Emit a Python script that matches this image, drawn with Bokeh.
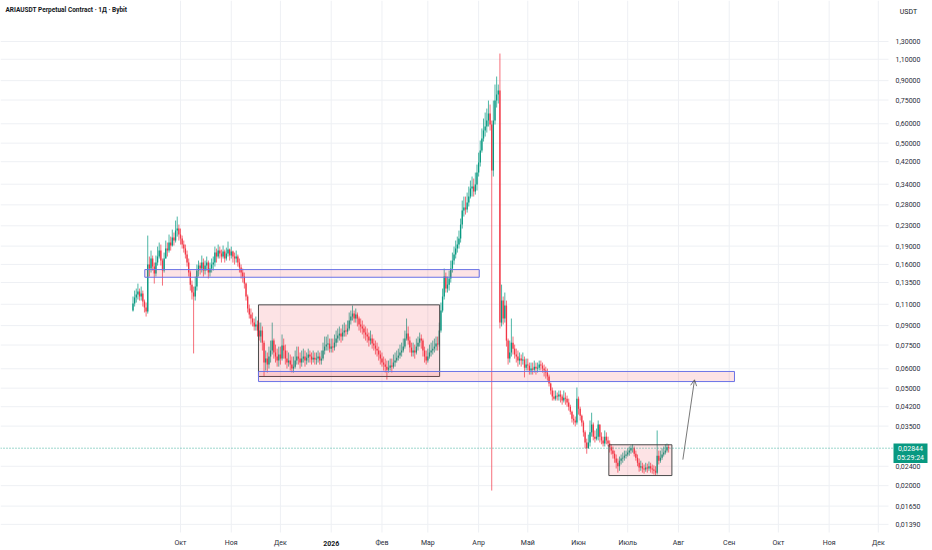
import math
import numpy as np
import pandas as pd
from bokeh.plotting import figure
from bokeh.models import Range1d, Arrow, OpenHead, ColumnDataSource
from bokeh.core.properties import value
from bokeh.embed import file_html
from bokeh.resources import INLINE

# ---------------- data ----------------
title_text = "ARIAUSDT Perpetual Contract · 1Д · Bybit"
currency = "USDT"
first_date = "2025-09-02"
origin_date = "2025-10-01"
first_open = 0.1037

close = [
    0.1107, 0.1172, 0.1205, 0.1239, 0.1183, 0.1216, 0.1128, 0.1067, 0.1027, 0.1598,
    0.1539, 0.1691, 0.1568, 0.1468, 0.1628, 0.1723, 0.1822, 0.1659, 0.1510, 0.1691,
    0.1857, 0.1822, 0.1965, 0.1910, 0.2059, 0.2002, 0.2199, 0.2241, 0.2118, 0.2040,
    0.1928, 0.1857, 0.1755, 0.1628, 0.1482, 0.1323, 0.1228, 0.1183, 0.1299, 0.1510,
    0.1583, 0.1539, 0.1628, 0.1510, 0.1583, 0.1628, 0.1482, 0.1539, 0.1598, 0.1628,
    0.1788, 0.1723, 0.1822, 0.1771, 0.1723, 0.1805, 0.1691, 0.1771, 0.1839, 0.1739,
    0.1805, 0.1723, 0.1691, 0.1723, 0.1628, 0.1553, 0.1482, 0.1427, 0.1336, 0.1183,
    0.1057, 0.0999, 0.0962, 0.0926, 0.0893, 0.0909, 0.0859, 0.0812, 0.0859, 0.0767,
    0.0636, 0.0660, 0.0624, 0.0673, 0.0712, 0.0782, 0.0699, 0.0673, 0.0648, 0.0686,
    0.0660, 0.0746, 0.0712, 0.0660, 0.0636, 0.0648, 0.0624, 0.0601, 0.0612, 0.0648,
    0.0673, 0.0660, 0.0636, 0.0660, 0.0673, 0.0648, 0.0666, 0.0686, 0.0673, 0.0654,
    0.0666, 0.0654, 0.0660, 0.0673, 0.0648, 0.0660, 0.0712, 0.0739, 0.0753, 0.0760,
    0.0725, 0.0739, 0.0732, 0.0767, 0.0797, 0.0820, 0.0835, 0.0812, 0.0843, 0.0859,
    0.0851, 0.0876, 0.0944, 0.0980, 0.1008, 0.0962, 0.0999, 0.0962, 0.0909, 0.0893,
    0.0876, 0.0843, 0.0827, 0.0812, 0.0782, 0.0797, 0.0760, 0.0746, 0.0725, 0.0712,
    0.0686, 0.0660, 0.0636, 0.0624, 0.0612, 0.0595, 0.0606, 0.0618, 0.0612, 0.0636,
    0.0648, 0.0666, 0.0679, 0.0699, 0.0712, 0.0739, 0.0797, 0.0835, 0.0782, 0.0732,
    0.0699, 0.0712, 0.0699, 0.0739, 0.0767, 0.0797, 0.0782, 0.0712, 0.0673, 0.0648,
    0.0673, 0.0699, 0.0712, 0.0725, 0.0739, 0.0760, 0.0753, 0.0859, 0.1037, 0.1183,
    0.1427, 0.1275, 0.1323, 0.1401, 0.1539, 0.1659, 0.1755, 0.1857, 0.1928, 0.2040,
    0.2327, 0.2654, 0.2730, 0.2679, 0.2861, 0.3027, 0.3264, 0.3325, 0.3173, 0.3389,
    0.3793, 0.4167, 0.4665, 0.5222, 0.5630, 0.5846, 0.6185, 0.6605, 0.5956, 0.3865,
    0.6185, 0.7464, 0.7897, 0.8200, 0.0926, 0.1139, 0.0962, 0.1087, 0.0782, 0.0660,
    0.0699, 0.0767, 0.0725, 0.0686, 0.0673, 0.0648, 0.0660, 0.0648, 0.0654, 0.0606,
    0.0624, 0.0618, 0.0590, 0.0601, 0.0595, 0.0612, 0.0601, 0.0606, 0.0624, 0.0618,
    0.0601, 0.0590, 0.0579, 0.0558, 0.0522, 0.0489, 0.0462, 0.0453, 0.0466, 0.0462,
    0.0471, 0.0462, 0.0445, 0.0457, 0.0453, 0.0437, 0.0420, 0.0401, 0.0375, 0.0369,
    0.0362, 0.0453, 0.0412, 0.0386, 0.0362, 0.0330, 0.0300, 0.0284, 0.0300, 0.0330,
    0.0355, 0.0317, 0.0311, 0.0317, 0.0355, 0.0317, 0.0306, 0.0297, 0.0317, 0.0306,
    0.0297, 0.0287, 0.0278, 0.0270, 0.0258, 0.0248, 0.0240, 0.0253, 0.0258, 0.0260,
    0.0265, 0.0268, 0.0273, 0.0278, 0.0284, 0.0284, 0.0270, 0.0260, 0.0248, 0.0237,
    0.0240, 0.0235, 0.0233, 0.0237, 0.0235, 0.0240, 0.0235, 0.0233, 0.0230, 0.0226,
    0.0265, 0.0253, 0.0260, 0.0268, 0.0273, 0.0278, 0.0287, 0.02844,
]

high = [
    0.1183, 0.1251, 0.1275, 0.1336, 0.1275, 0.1299, 0.1251, 0.1150, 0.1118, 0.2098,
    0.1723, 0.1822, 0.1739, 0.1628, 0.1739, 0.1892, 0.1965, 0.1928, 0.1691, 0.1788,
    0.2002, 0.1965, 0.2118, 0.2078, 0.2219, 0.2158, 0.2416, 0.2508, 0.2327, 0.2241,
    0.2098, 0.2002, 0.1928, 0.1822, 0.1691, 0.1510, 0.1374, 0.1299, 0.1427, 0.1598,
    0.1659, 0.1628, 0.1739, 0.1691, 0.1659, 0.1723, 0.1659, 0.1628, 0.1691, 0.1723,
    0.1892, 0.1857, 0.1928, 0.1892, 0.1839, 0.1910, 0.1839, 0.1874, 0.1983, 0.1857,
    0.1892, 0.1822, 0.1788, 0.1822, 0.1755, 0.1691, 0.1598, 0.1539, 0.1482, 0.1349,
    0.1205, 0.1097, 0.1057, 0.1018, 0.0962, 0.0980, 0.0944, 0.0926, 0.0926, 0.0893,
    0.0782, 0.0712, 0.0699, 0.0739, 0.0782, 0.0926, 0.0797, 0.0753, 0.0725, 0.0739,
    0.0739, 0.0828, 0.0797, 0.0753, 0.0712, 0.0699, 0.0686, 0.0673, 0.0673, 0.0712,
    0.0739, 0.0739, 0.0699, 0.0712, 0.0725, 0.0712, 0.0699, 0.0725, 0.0712, 0.0699,
    0.0712, 0.0699, 0.0699, 0.0712, 0.0699, 0.0712, 0.0767, 0.0812, 0.0812, 0.0828,
    0.0797, 0.0797, 0.0797, 0.0828, 0.0859, 0.0876, 0.0893, 0.0876, 0.0909, 0.0926,
    0.0909, 0.0944, 0.1018, 0.1037, 0.1087, 0.1037, 0.1057, 0.1018, 0.0980, 0.0962,
    0.0944, 0.0909, 0.0893, 0.0876, 0.0843, 0.0859, 0.0828, 0.0797, 0.0782, 0.0767,
    0.0739, 0.0712, 0.0699, 0.0673, 0.0660, 0.0648, 0.0648, 0.0660, 0.0660, 0.0686,
    0.0699, 0.0712, 0.0725, 0.0753, 0.0767, 0.0797, 0.0859, 0.0962, 0.0893, 0.0812,
    0.0767, 0.0767, 0.0753, 0.0797, 0.0812, 0.0843, 0.0828, 0.0797, 0.0739, 0.0712,
    0.0725, 0.0753, 0.0767, 0.0782, 0.0797, 0.0812, 0.0812, 0.0926, 0.1118, 0.1275,
    0.1539, 0.1482, 0.1427, 0.1510, 0.1659, 0.1788, 0.1892, 0.2002, 0.2078, 0.2199,
    0.2462, 0.2916, 0.3027, 0.3027, 0.3143, 0.3325, 0.3519, 0.3654, 0.3586, 0.3793,
    0.4088, 0.4575, 0.5125, 0.5740, 0.6303, 0.6667, 0.6922, 0.7464, 0.7186, 0.6185,
    0.7464, 0.8675, 0.9354, 0.8675, 1.1610, 0.1323, 0.1183, 0.1228, 0.1139, 0.0797,
    0.0782, 0.0962, 0.0812, 0.0753, 0.0725, 0.0712, 0.0699, 0.0686, 0.0699, 0.0673,
    0.0660, 0.0660, 0.0636, 0.0636, 0.0636, 0.0648, 0.0636, 0.0636, 0.0648, 0.0648,
    0.0636, 0.0624, 0.0612, 0.0601, 0.0568, 0.0527, 0.0503, 0.0489, 0.0489, 0.0480,
    0.0489, 0.0489, 0.0471, 0.0489, 0.0480, 0.0466, 0.0453, 0.0428, 0.0405, 0.0390,
    0.0383, 0.0503, 0.0462, 0.0420, 0.0390, 0.0369, 0.0336, 0.0311, 0.0323, 0.0369,
    0.0397, 0.0362, 0.0336, 0.0342, 0.0369, 0.0355, 0.0330, 0.0317, 0.0336, 0.0330,
    0.0317, 0.0306, 0.0295, 0.0289, 0.0278, 0.0268, 0.0258, 0.0263, 0.0268, 0.0273,
    0.0278, 0.0278, 0.0284, 0.0289, 0.0292, 0.0295, 0.0289, 0.0278, 0.0268, 0.0258,
    0.0253, 0.0248, 0.0244, 0.0248, 0.0246, 0.0251, 0.0248, 0.0244, 0.0242, 0.0240,
    0.0336, 0.0278, 0.0278, 0.0284, 0.0289, 0.0295, 0.0297, 0.0295,
]

low = [
    0.1027, 0.1077, 0.1118, 0.1150, 0.1139, 0.1139, 0.1077, 0.1018, 0.0980, 0.1008,
    0.1427, 0.1482, 0.1510, 0.1336, 0.1427, 0.1583, 0.1691, 0.1583, 0.1311, 0.1482,
    0.1691, 0.1723, 0.1788, 0.1822, 0.1892, 0.1910, 0.1965, 0.2078, 0.2002, 0.1928,
    0.1857, 0.1788, 0.1691, 0.1568, 0.1427, 0.1251, 0.1150, 0.0693, 0.1139, 0.1251,
    0.1427, 0.1455, 0.1482, 0.1427, 0.1455, 0.1510, 0.1401, 0.1427, 0.1482, 0.1510,
    0.1568, 0.1628, 0.1691, 0.1691, 0.1628, 0.1691, 0.1628, 0.1659, 0.1723, 0.1659,
    0.1691, 0.1628, 0.1598, 0.1628, 0.1568, 0.1482, 0.1401, 0.1349, 0.1275, 0.1139,
    0.1018, 0.0962, 0.0909, 0.0893, 0.0859, 0.0859, 0.0812, 0.0782, 0.0767, 0.0712,
    0.0558, 0.0590, 0.0579, 0.0601, 0.0636, 0.0686, 0.0660, 0.0636, 0.0612, 0.0612,
    0.0624, 0.0648, 0.0660, 0.0624, 0.0601, 0.0612, 0.0590, 0.0579, 0.0579, 0.0601,
    0.0624, 0.0624, 0.0601, 0.0612, 0.0636, 0.0612, 0.0624, 0.0636, 0.0636, 0.0624,
    0.0636, 0.0624, 0.0624, 0.0636, 0.0624, 0.0624, 0.0648, 0.0686, 0.0712, 0.0712,
    0.0699, 0.0699, 0.0699, 0.0712, 0.0739, 0.0767, 0.0782, 0.0767, 0.0782, 0.0812,
    0.0812, 0.0828, 0.0859, 0.0909, 0.0944, 0.0926, 0.0926, 0.0893, 0.0859, 0.0843,
    0.0828, 0.0797, 0.0782, 0.0767, 0.0739, 0.0753, 0.0725, 0.0712, 0.0686, 0.0673,
    0.0648, 0.0624, 0.0612, 0.0590, 0.0579, 0.0542, 0.0579, 0.0590, 0.0579, 0.0601,
    0.0612, 0.0636, 0.0648, 0.0660, 0.0673, 0.0699, 0.0725, 0.0782, 0.0753, 0.0699,
    0.0673, 0.0673, 0.0660, 0.0686, 0.0712, 0.0739, 0.0725, 0.0673, 0.0636, 0.0624,
    0.0636, 0.0660, 0.0673, 0.0686, 0.0699, 0.0712, 0.0712, 0.0739, 0.0843, 0.1018,
    0.1150, 0.1228, 0.1228, 0.1251, 0.1349, 0.1482, 0.1598, 0.1691, 0.1788, 0.1857,
    0.1965, 0.2241, 0.2508, 0.2556, 0.2604, 0.2757, 0.2973, 0.3027, 0.3027, 0.3084,
    0.3203, 0.3654, 0.4014, 0.4575, 0.5077, 0.5321, 0.5524, 0.5846, 0.5630, 0.0191,
    0.3654, 0.5956, 0.6988, 0.7258, 0.0876, 0.0893, 0.0909, 0.0926, 0.0739, 0.0624,
    0.0636, 0.0673, 0.0686, 0.0660, 0.0636, 0.0612, 0.0624, 0.0612, 0.0624, 0.0553,
    0.0590, 0.0590, 0.0568, 0.0568, 0.0568, 0.0579, 0.0568, 0.0579, 0.0590, 0.0590,
    0.0579, 0.0558, 0.0547, 0.0537, 0.0508, 0.0471, 0.0445, 0.0445, 0.0445, 0.0445,
    0.0445, 0.0437, 0.0428, 0.0437, 0.0428, 0.0420, 0.0405, 0.0390, 0.0362, 0.0355,
    0.0349, 0.0355, 0.0390, 0.0369, 0.0349, 0.0317, 0.0284, 0.0270, 0.0284, 0.0289,
    0.0317, 0.0306, 0.0300, 0.0306, 0.0306, 0.0300, 0.0295, 0.0289, 0.0289, 0.0295,
    0.0289, 0.0273, 0.0268, 0.0258, 0.0248, 0.0235, 0.0226, 0.0230, 0.0244, 0.0248,
    0.0253, 0.0258, 0.0263, 0.0265, 0.0270, 0.0273, 0.0263, 0.0253, 0.0240, 0.0228,
    0.0230, 0.0226, 0.0224, 0.0228, 0.0226, 0.0230, 0.0226, 0.0224, 0.0222, 0.0220,
    0.0222, 0.0244, 0.0248, 0.0255, 0.0263, 0.0268, 0.0273, 0.0273,
]

month_starts = ["2025-10-01", "2025-11-01", "2025-12-01", "2026-01-01", "2026-02-01",
                "2026-03-01", "2026-04-01", "2026-05-01", "2026-06-01", "2026-07-01",
                "2026-08-01", "2026-09-01", "2026-10-01", "2026-11-01", "2026-12-01"]
month_labels = ["Окт", "Ноя", "Дек", "2026", "Фев", "Мар", "Апр", "Май", "Июн", "Июль",
                "Авг", "Сен", "Окт", "Ноя", "Дек"]
price_ticks = [1.3, 1.1, 0.9, 0.75, 0.6, 0.5, 0.42, 0.34, 0.28, 0.23, 0.19, 0.16, 0.135,
               0.11, 0.09, 0.075, 0.06, 0.05, 0.042, 0.035, 0.024, 0.02, 0.0165, 0.0139]
last_price = 0.02844
countdown = "05:29:24"

# drawn zones / boxes (day offset from origin, price)
rect_left = [-21.8, 47.6, 47.6, 261.5]
rect_right = [182.4, 158.2, 338.2, 300.0]
rect_top = [0.1524, 0.1094, 0.0585, 0.02937]
rect_bottom = [0.1418, 0.0558, 0.0532, 0.02199]
rect_kind = ["zone", "box", "zone", "box"]
arrow_from = (306.7, 0.02555)
arrow_to = (313.8, 0.0541)

# ---------------- layout (page pixels <-> data) ----------------
W, H = 932, 550
PANE_RIGHT_PX, PANE_BOTTOM_PX = 888, 532
DAY0_PX, PX_PER_DAY = 180.0, 1.638
REF_PRICE, REF_PX, PX_PER_LN = 1.3, 41.0, 106.4
UP, DOWN = "#089981", "#F23645"
BLUE, DARK = "#6a72e6", "#4a4a4a"
GRID = "#eef0f4"
TXT = "#2a2e39"
FONT = value("Roboto")
FS = value("7px")


def dx(px):
    return (px - DAY0_PX) / PX_PER_DAY


def dy(py):
    return math.exp(math.log(REF_PRICE) - (py - REF_PX) / PX_PER_LN)


origin = pd.Timestamp(origin_date)
dates = pd.date_range(first_date, periods=len(close), freq="D")
xs = np.array((dates - origin).days, dtype=float)
c = np.array(close)
o = np.concatenate([[first_open], c[:-1]])
hi = np.maximum(np.array(high), np.maximum(o, c))
lo = np.minimum(np.array(low), np.minimum(o, c))
up = c >= o

src = ColumnDataSource(dict(
    x=xs, top=np.maximum(o, c), bottom=np.minimum(o, c), hi=hi, lo=lo,
    color=[UP if u else DOWN for u in up]))

month_x = [float((pd.Timestamp(m) - origin).days) for m in month_starts]

p = figure(width=W, height=H,
           x_range=Range1d(dx(0), dx(W)), y_range=Range1d(dy(H), dy(0)),
           y_axis_type="log", x_axis_location=None, y_axis_location=None,
           output_backend="svg", toolbar_location=None,
           min_border_left=0, min_border_top=0, min_border_bottom=0, min_border_right=0)
p.outline_line_color = None
p.background_fill_color = "white"
p.border_fill_color = "white"
p.xgrid.visible = False
p.ygrid.visible = False

# grid of the price pane
p.segment(x0=month_x, x1=month_x, y0=[dy(0)] * len(month_x),
          y1=[dy(PANE_BOTTOM_PX)] * len(month_x), line_color=GRID, line_width=1)
p.segment(x0=[dx(0)] * len(price_ticks), x1=[dx(PANE_RIGHT_PX)] * len(price_ticks),
          y0=price_ticks, y1=price_ticks, line_color=GRID, line_width=1)

# candles
p.segment(x0="x", y0="hi", x1="x", y1="lo", source=src, line_color="color",
          line_width=0.9, line_alpha=0.8)
p.vbar(x="x", width=0.8, top="top", bottom="bottom", source=src,
       fill_color="color", line_color=None)

# drawings
for l, r, t, b, k in zip(rect_left, rect_right, rect_top, rect_bottom, rect_kind):
    p.quad(left=l, right=r, top=t, bottom=b, fill_color=DOWN, fill_alpha=0.14,
           line_color=BLUE if k == "zone" else DARK, line_width=1)

p.add_layout(Arrow(end=OpenHead(size=6, line_color="#555555", line_width=0.8),
                   x_start=arrow_from[0], y_start=arrow_from[1],
                   x_end=arrow_to[0], y_end=arrow_to[1],
                   line_color="#555555", line_width=0.8))

# last price dotted line
p.segment(x0=[dx(0)], x1=[dx(893)], y0=[last_price], y1=[last_price],
          line_color=UP, line_dash="1 2", line_width=1, line_alpha=0.8)

# price scale labels (right)
p.text(x=[dx(895)] * len(price_ticks), y=price_ticks,
       text=[f"{t:.5f}".replace(".", ",") for t in price_ticks],
       text_align="left", text_baseline="middle", text_font=FONT,
       text_font_size=FS, text_color=TXT)

# last price badge
p.quad(left=[dx(893)], right=[dx(927)], top=[dy(443)], bottom=[dy(462.5)],
       fill_color=UP, line_color=None)
p.text(x=[dx(910), dx(910)], y=[last_price, dy(457.5)],
       text=[f"{last_price:.5f}".replace(".", ","), countdown],
       text_align="center", text_baseline="middle", text_font=FONT,
       text_font_size=FS, text_color="white")

# time scale labels (bottom); the year label is bold
yr = month_labels.index("2026")
norm_idx = [i for i in range(len(month_labels)) if i != yr]
p.text(x=[month_x[i] for i in norm_idx], y=[dy(542.5)] * len(norm_idx),
       text=[month_labels[i] for i in norm_idx],
       text_align="center", text_baseline="middle", text_font=FONT,
       text_font_size=FS, text_color=TXT)
p.text(x=[month_x[yr]], y=[dy(542.5)], text=[month_labels[yr]],
       text_align="center", text_baseline="middle", text_font=FONT,
       text_font_size=FS, text_font_style=value("bold"), text_color="#131722")

# title and currency
p.text(x=[dx(5)], y=[dy(9)], text=[title_text], text_align="left",
       text_baseline="middle", text_font=FONT, text_font_size=value("6.5px"),
       text_font_style=value("bold"), text_color="#131722")
p.text(x=[dx(908)], y=[dy(11)], text=[currency], text_align="center",
       text_baseline="middle", text_font=FONT, text_font_size=FS, text_color="#131722")

open("out.html", "w").write(file_html(p, INLINE))
